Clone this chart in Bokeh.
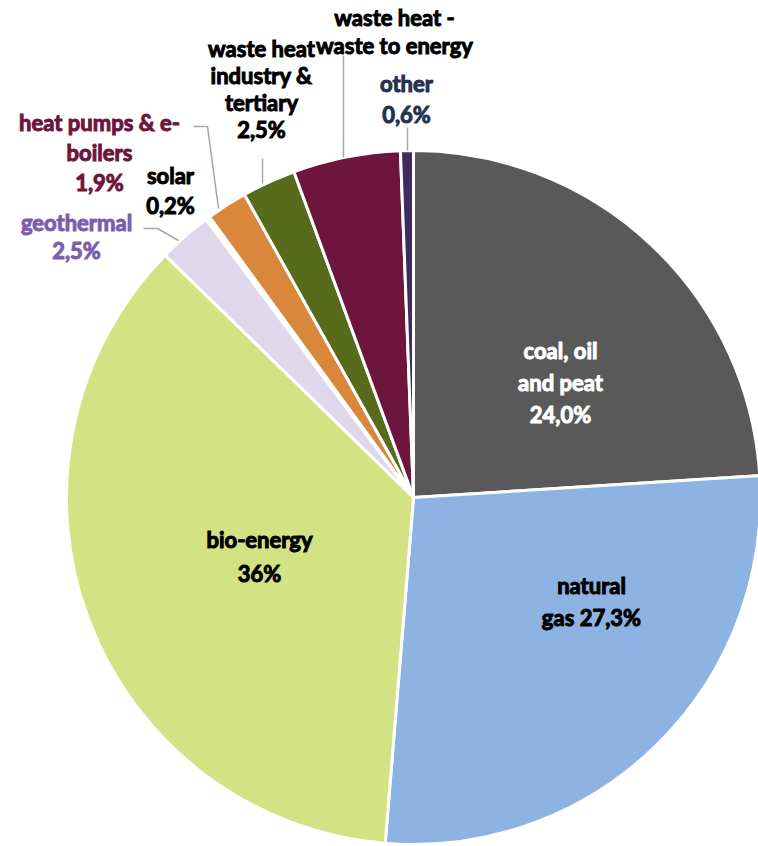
import numpy as np
from bokeh.plotting import figure
from bokeh.models import ColumnDataSource
from bokeh.core.properties import value
from bokeh.embed import file_html
from bokeh.resources import INLINE

# ---- data ----
categories = ["coal, oil and peat", "natural gas", "bio-energy", "geothermal", "solar",
              "heat pumps & e-boilers", "waste heat industry & tertiary",
              "waste heat - waste to energy", "other"]
values = [24.0, 27.3, 36.0, 2.5, 0.2, 1.9, 2.5, 5.0, 0.6]
label_texts = [
    ["coal, oil", "and peat", "24,0%"],
    ["natural", "gas 27,3%"],
    ["bio-energy", "36%"],
    ["geothermal", "2,5%"],
    ["solar", "0,2%"],
    ["heat pumps & e-", "boilers", "1,9%"],
    ["waste heat", "industry &", "tertiary", "2,5%"],
    ["waste heat -", "waste to energy"],
    ["other", "0,6%"],
]

# ---- styles / layout ----
slice_colors = ["#595959", "#8DB3E2", "#D3E283", "#DFD8EC", "#FFFFCC",
                "#D9873A", "#586A1C", "#6D153C", "#3E2C60"]
text_colors = ["#FFFFFF", "#000000", "#000000", "#7B5DB0", "#000000",
               "#6D153C", "#000000", "#000000", "#1F3251"]
# label block centres (pixel coords) and line spacing
label_pos = [(560, 382, 32), (591, 601, 32), (259, 556, 34), (76, 236, 28),
             (170, 190, 30), (99, 152, 30), (261, 88, 27), (394, 31, 28), (406, 98, 31)]
# leader lines (pixel coords)
leaders = [
    [(193, 126), (207, 126), (218, 208)],
    [(143, 228), (157, 228), (178, 240)],
    [(262, 158), (262, 183)],
    [(343, 55), (343, 157)],
    [(407, 127), (407, 150)],
]

W, H = 758, 846
CX, CY, R = 413, 497, 347

def fy(y):
    return H - y

p = figure(width=W, height=H, x_range=(0, W), y_range=(0, H),
           output_backend="svg", toolbar_location=None,
           x_axis_location=None, y_axis_location=None, min_border=0)
p.grid.visible = False
p.outline_line_color = None
p.background_fill_color = "white"
p.border_fill_color = "white"

vals = np.array(values)
frac = vals / vals.sum()
cum = np.concatenate([[0], np.cumsum(frac)])
start = np.pi / 2 - cum[:-1] * 2 * np.pi
end = np.pi / 2 - cum[1:] * 2 * np.pi

src = ColumnDataSource(dict(start=start, end=end, color=slice_colors, cat=categories))
p.wedge(x=CX, y=fy(CY), radius=R, start_angle="start", end_angle="end",
        direction="clock", fill_color="color", line_color="white", line_width=3,
        source=src)

for pts in leaders:
    p.line([q[0] for q in pts], [fy(q[1]) for q in pts], line_color="#A6A6A6", line_width=1.5)

xs, ys, ts, cs = [], [], [], []
for lines, (lx, ly, sp), col in zip(label_texts, label_pos, text_colors):
    n = len(lines)
    for i, t in enumerate(lines):
        xs.append(lx)
        ys.append(fy(ly + (i - (n - 1) / 2) * sp))
        ts.append(t)
        cs.append(col)

tsrc = ColumnDataSource(dict(x=xs, y=ys, text=ts, color=cs))
p.text(x="x", y="y", text="text", text_color="color", source=tsrc,
       text_font=value("Lato"), text_font_style="bold", text_font_size="22px",
       text_outline_color="color",
       text_align="center", text_baseline="middle")

open("out.html", "w").write(file_html(p, INLINE))
